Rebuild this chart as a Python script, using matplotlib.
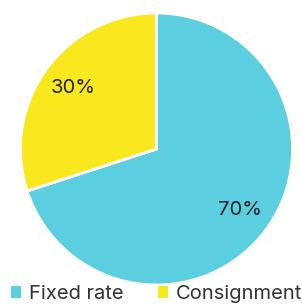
import matplotlib.pyplot as plt

labels = ['Fixed rate', 'Consignment']
shares = [70, 30]
colors = ['#5BCFDF', '#F9E81E']

plt.rcParams['font.family'] = ['Inter', 'DejaVu Sans']

fig = plt.figure(figsize=(3.02, 3.05), dpi=100)
ax = fig.add_axes([20.5 / 302, 20 / 305, 272 / 302, 272 / 305])

wedges, texts, autotexts = ax.pie(
    shares, colors=colors, startangle=90, counterclock=False,
    autopct='%d%%', pctdistance=0.76,
    wedgeprops=dict(edgecolor='white', linewidth=2),
    textprops=dict(fontsize=14.5, color='#222222'))
ax.set_xlim(-1, 1)
ax.set_ylim(-1, 1)

leg = fig.legend(wedges, labels, loc='lower left', bbox_to_anchor=(-0.01, -0.04),
                 ncol=2, frameon=False, fontsize=14.5, handlelength=0.5,
                 handleheight=0.5, handletextpad=0.4, columnspacing=1.7,
                 borderpad=0.2)
for h in leg.legend_handles:
    h.set_edgecolor('none')
for t in leg.get_texts():
    t.set_color('#333333')

fig.savefig('out.png', dpi=100)
